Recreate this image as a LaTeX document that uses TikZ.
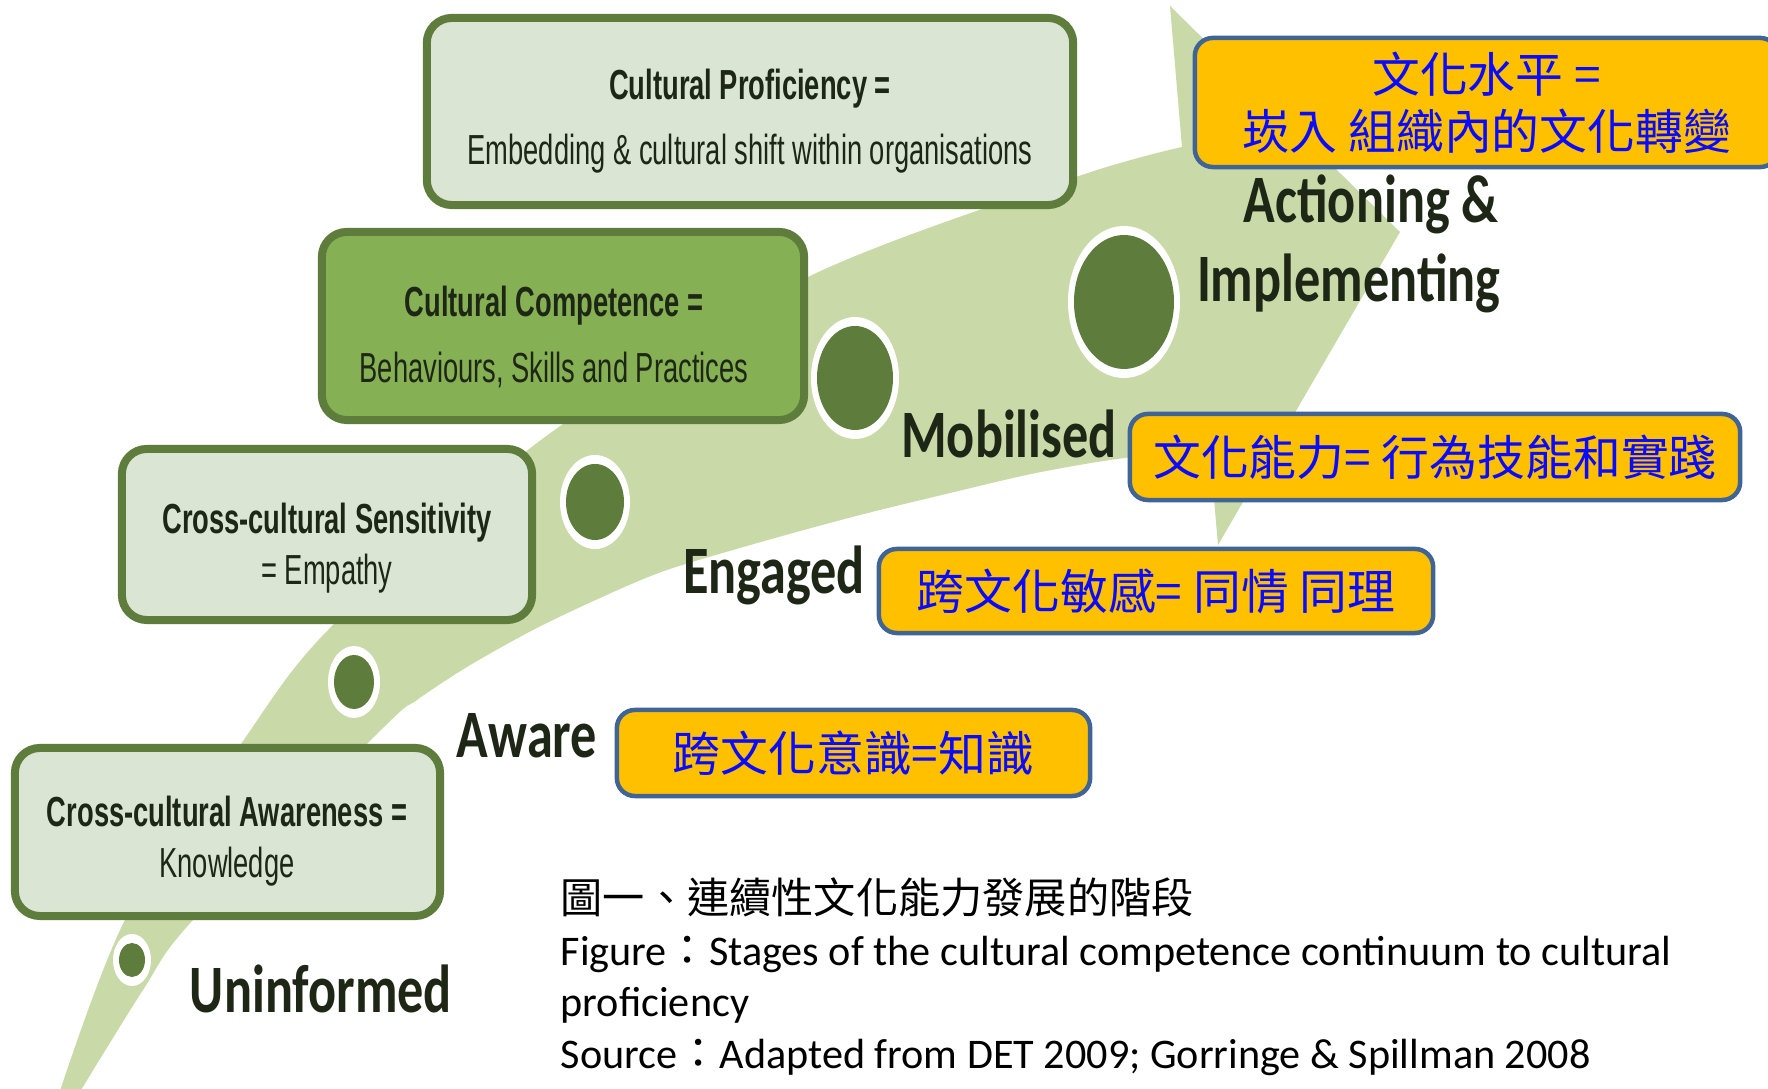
\documentclass[tikz,border=0pt]{standalone}
\usepackage{fontspec}
\setmainfont{Carlito}
\newfontfamily\boxfont{Liberation Sans}
\newfontfamily\cjk{Noto Sans CJK TC}
\definecolor{SwooshGreen}{RGB}{201, 217, 168}
\definecolor{LeafLight}{RGB}{218, 229, 212}
\definecolor{LeafMid}{RGB}{134, 176, 84}
\definecolor{LeafDark}{RGB}{94, 125, 60}
\definecolor{NoteGold}{RGB}{255, 192, 0}
\definecolor{NoteBlue}{RGB}{65, 100, 150}
\definecolor{NoteText}{RGB}{10, 10, 255}
\definecolor{LabelBlack}{RGB}{30, 38, 22}

\begin{document}
\begin{tikzpicture}[
    x=0.01cm, y=-0.01cm,        % one unit = one pixel, y runs downwards
    % Define styles for the elements
    swoosh/.style={
        fill=SwooshGreen
    },
    stage box/.style={
        rectangle,
        rounded corners=0.25cm,
        draw=LeafDark,          % Dark green outline
        line width=0.08cm,
        fill=#1                 % Light green unless told otherwise
    },
    stage box/.default=LeafLight,
    box text/.style={
        font=\boxfont\fontsize{11.95}{#1}\selectfont,
        text=LabelBlack,
        align=center,
        inner sep=0pt,
        xscale=0.65             % narrow lettering
    },
    box text/.default=18.5,
    stage label/.style={
        font=\bfseries\fontsize{19.3}{22}\selectfont,
        text=LabelBlack,
        inner sep=0pt,
        xscale=0.77
    },
    note box/.style={
        rectangle,
        rounded corners=0.18cm,
        draw=NoteBlue,          % Blue-grey outline
        line width=0.045cm,
        fill=NoteGold,          % Gold fill
        text=NoteText,
        font=\cjk\fontsize{13.6}{16.2}\selectfont,
        align=center,
        inner sep=0pt
    },
    caption line/.style={
        font=\fontsize{12}{14}\selectfont,
        anchor=base west,
        inner sep=0pt
    }
]

    \path[use as bounding box, fill=white] (0,0) rectangle (1768,1089);

    % --- Swoosh arrow ---
    \fill[swoosh]
        plot[smooth] coordinates {(57,1100) (125,920) (241,744) (330,628) (545,437) (808,277) (1076,177) (1182,147)}
        -- (1170,6) -- (1400,232) -- (1218,545) -- (1210,452)
        -- plot[smooth] coordinates {(1210,452) (1125,458) (1036,473) (946,494) (860,515) (768,540) (667,570) (600,598) (533,630) (467,667) (417,700) (383,728) (193,920) (143,990) (75,1100)}
        -- cycle;

    % --- Dots along the swoosh ---
    \foreach \cx/\cy/\rx/\ry in {132/960/13/17, 354/682/20/27, 595/502/29/38, 855/378/38/52, 1124/302/50/67} {
        \fill[white] (\cx,\cy) ellipse ({\rx+6} and {\ry+9});
        \fill[LeafDark] (\cx,\cy) ellipse ({\rx} and {\ry});
    }

    % --- Stage boxes ---
    \node[stage box, minimum width=6.46cm, minimum height=1.87cm] (proficiency) at (750,111.5) {};
    \node[box text] (proficiency text) at (750,121) {\textbf{Cultural Proficiency =}\\Embedding \& cultural shift within organisations};

    \node[stage box=LeafMid, minimum width=4.82cm, minimum height=1.88cm] (competence) at (563,326) {};
    \node[box text] (competence text) at (554,337) {\textbf{Cultural Competence =}\\Behaviours, Skills and Practices};

    \node[stage box, minimum width=4.10cm, minimum height=1.71cm] (sensitivity) at (327,534.5) {};
    \node[box text=14.4] (sensitivity text) at (327,548) {\textbf{Cross-cultural Sensitivity}\\= Empathy};

    \node[stage box, minimum width=4.25cm, minimum height=1.68cm] (awareness) at (227.5,832) {};
    \node[box text=14.4] (awareness text) at (227,841) {\textbf{Cross-cultural Awareness =}\\Knowledge};

    % --- Stage names ---
    \node[stage label, anchor=base] (uninformed) at (321,1013) {Uninformed};
    \node[stage label, anchor=base] (aware) at (527,758) {Aware};
    \node[stage label, anchor=base] (engaged) at (774,594) {Engaged};
    \node[stage label, anchor=base] (mobilised) at (1009,458) {Mobilised};
    \node[stage label, anchor=base east] (actioning) at (1499,223) {Actioning \&};
    \node[stage label, anchor=base east] (implementing) at (1501,302) {Implementing};

    % --- Chinese notes ---
    \node[note box, minimum width=4.73cm, minimum height=0.86cm] (note aware) at (853.5,753) {跨文化意識=知識};
    \node[note box, minimum width=5.54cm, minimum height=0.84cm] (note engaged) at (1156,591) {跨文化敏感= 同情 同理};
    \node[note box, minimum width=6.10cm, minimum height=0.86cm] (note mobilised) at (1435,457) {文化能力= 行為技能和實踐};
    \node[note box, minimum width=5.83cm, minimum height=1.29cm] (note actioning) at (1486.5,102.5) {文化水平 =\\崁入 組織內的文化轉變};

    % --- Caption ---
    \node[caption line, font=\cjk\fontsize{12}{14}\selectfont] (caption title) at (560,914) {圖一、連續性文化能力發展的階段};
    \node[caption line] (caption figure) at (560,966) {Figure{\cjk ：}Stages of the cultural competence continuum to cultural};
    \node[caption line] (caption figure more) at (560,1017) {proficiency};
    \node[caption line] (caption source) at (560,1069) {Source{\cjk ：}Adapted from DET 2009; Gorringe \& Spillman 2008};

\end{tikzpicture}
\end{document}
